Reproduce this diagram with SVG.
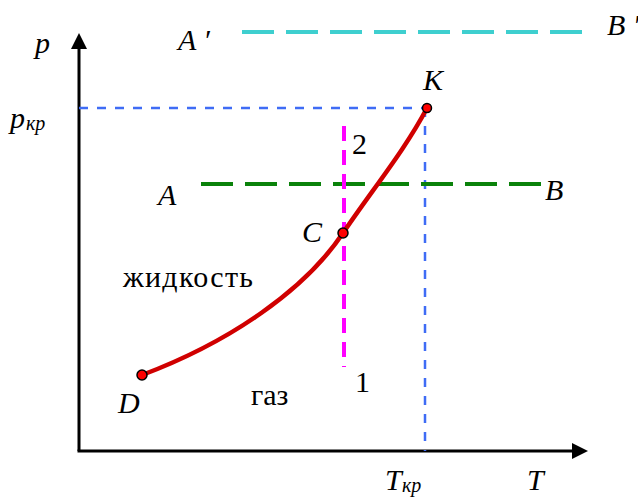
<svg xmlns="http://www.w3.org/2000/svg" width="638" height="497" viewBox="0 0 638 497">
<rect width="638" height="497" fill="#fff"/>
<g id="axes" fill="#000" stroke="#000">
<line x1="79" y1="451" x2="79" y2="46" stroke-width="3"/>
<polygon points="79,33 71,49 87,49" stroke="none"/>
<line x1="77.5" y1="451" x2="574" y2="451" stroke-width="3"/>
<polygon points="588,451 572,443 572,459" stroke="none"/>
</g>
<g id="connectors" fill="none">
<g stroke="#3f6cf5" stroke-width="2.5" stroke-dasharray="9 9">
<line x1="79" y1="108" x2="427" y2="108"/>
<line x1="425" y1="108" x2="425" y2="451"/>
</g>
<g stroke-width="4" stroke-dasharray="32 12">
<line x1="242" y1="32" x2="582" y2="32" stroke="#3ecfcf"/>
<line x1="201" y1="184" x2="541" y2="184" stroke="#0a820a"/>
</g>
<line x1="344" y1="126" x2="344" y2="367" stroke="#ff00ff" stroke-width="4" stroke-dasharray="15 9"/>
<path d="M142,375 C230,342 305,290 343,233 C372,190 405,150 427,108" stroke="#d00000" stroke-width="4.5"/>
</g>
<g id="D"><circle cx="142" cy="375" r="5" fill="#ff0000" stroke="#000" stroke-width="1.5"/><text x="118" y="413" font-family="Liberation Serif" font-size="30" font-style="italic">D</text></g>
<g id="C"><circle cx="343" cy="233" r="5" fill="#ff0000" stroke="#000" stroke-width="1.5"/><text x="302" y="242" font-family="Liberation Serif" font-size="30" font-style="italic">C</text></g>
<g id="K"><circle cx="427" cy="108" r="4.5" fill="#ff0000" stroke="#000" stroke-width="1.5"/><text x="423" y="90" font-family="Liberation Serif" font-size="30" font-style="italic">K</text></g>
<g id="labels">
<text x="35" y="53" font-family="Liberation Serif" font-size="30" font-style="italic">p</text>
<text x="10" y="128" font-family="Liberation Serif" font-size="30" font-style="italic">p</text>
<text x="26" y="130" font-family="Liberation Serif" font-size="20" font-style="italic">кр</text>
<text x="178" y="50" font-family="Liberation Serif" font-size="30" font-style="italic">A ′</text>
<text x="607" y="35" font-family="Liberation Serif" font-size="30" font-style="italic">B ′</text>
<text x="352" y="154" font-family="Liberation Serif" font-size="30">2</text>
<text x="158" y="205" font-family="Liberation Serif" font-size="30" font-style="italic">A</text>
<text x="545" y="200" font-family="Liberation Serif" font-size="30" font-style="italic">B</text>
<text x="123" y="287" font-family="Liberation Serif" font-size="30" textLength="130" lengthAdjust="spacing">жидкость</text>
<text x="251" y="405" font-family="Liberation Serif" font-size="30">газ</text>
<text x="355" y="392" font-family="Liberation Serif" font-size="30">1</text>
<text x="385" y="490" font-family="Liberation Serif" font-size="30" font-style="italic">T</text>
<text x="402" y="492" font-family="Liberation Serif" font-size="20" font-style="italic">кр</text>
<text x="527" y="490" font-family="Liberation Serif" font-size="30" font-style="italic">T</text>
</g>
</svg>
